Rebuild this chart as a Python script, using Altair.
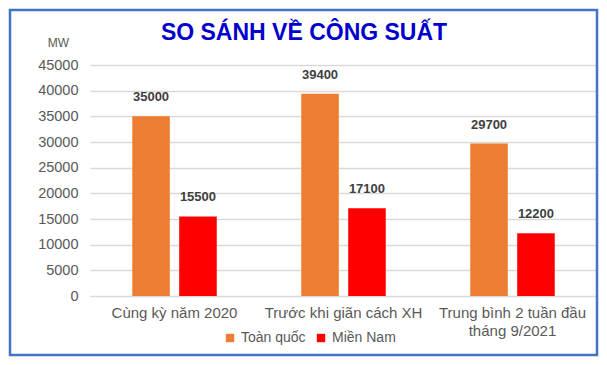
import altair as alt
import pandas as pd

categories = ["Cùng kỳ năm 2020", "Trước khi giãn cách XH", "Trung bình 2 tuần đầu\ntháng 9/2021"]
series = ["Toàn quốc", "Miền Nam"]
toan_quoc = [35000, 39400, 29700]
mien_nam = [15500, 17100, 12200]
colors = ["#ED7D31", "#FF0000"]
title_text = "SO SÁNH VỀ CÔNG SUẤT"

rows = []
for c, a, b in zip(categories, toan_quoc, mien_nam):
    rows.append({"cat": c, "series": series[0], "value": a})
    rows.append({"cat": c, "series": series[1], "value": b})
df = pd.DataFrame(rows)

x_enc = alt.X("cat:N", sort=categories, title=None,
              scale=alt.Scale(paddingInner=0.5, paddingOuter=0.25),
              axis=alt.Axis(labelExpr="split(datum.label, '\\n')", labelAngle=0,
                            labelFont="Liberation Sans", labelFontSize=15, labelColor="#595959",
                            labelPadding=9, ticks=False, domain=True, domainColor="#D9D9D9",
                            labelLineHeight=18, grid=False))
xo = alt.XOffset("series:N", sort=series, scale=alt.Scale(paddingInner=0.2, paddingOuter=0))
color = alt.Color("series:N", sort=series, scale=alt.Scale(domain=series, range=colors),
                  legend=alt.Legend(title=None, orient="none", direction="horizontal",
                                    legendX=133, legendY=266, symbolType="square", symbolSize=70,
                                    labelFont="Liberation Sans", labelFontSize=14, labelColor="#595959",
                                    columnPadding=8, labelOffset=4, symbolStrokeWidth=0))

y_enc = alt.Y("value:Q", title="MW",
              scale=alt.Scale(domain=[0, 45000], nice=False),
              axis=alt.Axis(values=list(range(0, 45001, 5000)), format="d", labelOverlap=False,
                            ticks=False, domain=False,
                            labelFont="Liberation Sans", labelFontSize=14.5, labelColor="#595959",
                            labelPadding=12, gridColor="#D9D9D9", gridWidth=1.5,
                            titleAngle=0, titleX=-32, titleY=-16, titleAlign="center",
                            titleFont="Liberation Sans", titleFontSize=12, titleFontWeight="normal",
                            titleColor="#595959"))

bars = alt.Chart(df).mark_bar().encode(x=x_enc, xOffset=xo, y=y_enc, color=color)
labels = alt.Chart(df).mark_text(dy=-19, font="Liberation Sans", fontWeight="bold",
                                 fontSize=13, color="#404040").encode(
    x=x_enc, xOffset=xo, y=y_enc, text="value:Q")

one = pd.DataFrame({"t": [title_text]})
border = alt.Chart(one).mark_rect(
    fill=None, stroke="#4472C4", strokeWidth=2.5, clip=False).encode(
    x=alt.value(-80), x2=alt.value(507), y=alt.value(-55), y2=alt.value(290))
title = alt.Chart(one).mark_text(
    font="Liberation Sans", fontSize=23, fontWeight="bold", color="#0000CC",
    baseline="alphabetic", align="center", clip=False).encode(
    x=alt.value(214), y=alt.value(-25), text="t:N")

chart = alt.layer(border, bars, labels, title).properties(
    width=507, height=231,
    autosize=alt.AutoSizeParams(type="none"),
    padding={"left": 82, "top": 57, "right": 2, "bottom": 61},
).configure_view(stroke=None)

chart.save("out.html", embed_options={"renderer": "svg", "actions": False})
